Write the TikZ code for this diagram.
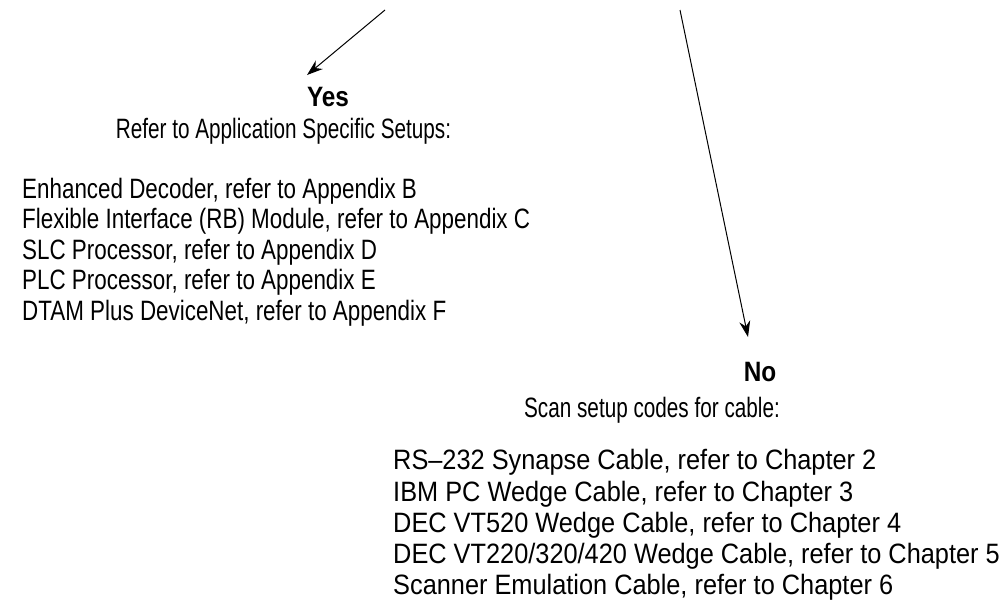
\documentclass[tikz,border=0pt]{standalone}
\usepackage{fontspec}
\setmainfont[FakeStretch=0.87]{Liberation Sans}
\newfontfamily\leftfont[FakeStretch=0.80]{Liberation Sans}
\newfontfamily\rightfont[FakeStretch=0.905]{Liberation Sans}
\newfontfamily\introfont[FakeStretch=0.74]{Liberation Sans}
\usepackage{tikz}
\usetikzlibrary{arrows,arrows.meta,positioning}

\begin{document}
\begin{tikzpicture}[x=1pt,y=-1pt]
          %% choice: setup path

          \tikzstyle{every node}=[inner sep=0pt,font=\fontsize{28}{30.8}\selectfont]
          \tikzstyle{answer}=[font=\fontsize{28}{31}\selectfont\bfseries]
          \tikzstyle{intro}=[font=\fontsize{28}{31}\selectfont\introfont]
          \tikzstyle{choice}=[-{Stealth[length=16pt,width=11pt]},line width=1pt]
          \tikzstyle{listing}=[align=left,anchor=west]

          \useasboundingbox (0,0) rectangle (1008,611);

          % free ends of the two arrows
          \coordinate (yesfrom) at (385,10);
          \coordinate (yestip) at (307,75);
          \coordinate (nofrom) at (680,10);
          \coordinate (notip) at (748,337);

          % branche oui
          \node[answer] (yes) at (328,97) {Yes};
          \node[intro] (yesintro) at (283.5,131) {Refer to Application Specific Setups:};
          \node[listing,font=\fontsize{28}{30.6}\selectfont\leftfont] (yeslist) at (22,252) {Enhanced Decoder, refer to Appendix B\\
                Flexible Interface (RB) Module, refer to Appendix C\\
                SLC Processor, refer to Appendix D\\
                PLC Processor, refer to Appendix E\\
                DTAM Plus DeviceNet, refer to Appendix F};

          % branche non
          \node[answer] (no) at (760,372) {No};
          \node[intro] (nointro) at (652,410) {Scan setup codes for cable:};
          \node[listing,font=\fontsize{28}{31.2}\selectfont\rightfont] (nolist) at (393,525) {RS–232 Synapse Cable, refer to Chapter 2\\
                IBM PC Wedge Cable, refer to Chapter 3\\
                DEC VT520 Wedge Cable, refer to Chapter 4\\
                DEC VT220/320/420 Wedge Cable, refer to Chapter 5\\
                Scanner Emulation Cable, refer to Chapter 6};

          \draw[choice] (yesfrom) -- (yestip);
          \draw[choice] (nofrom) -- (notip);

\end{tikzpicture}
\end{document}
